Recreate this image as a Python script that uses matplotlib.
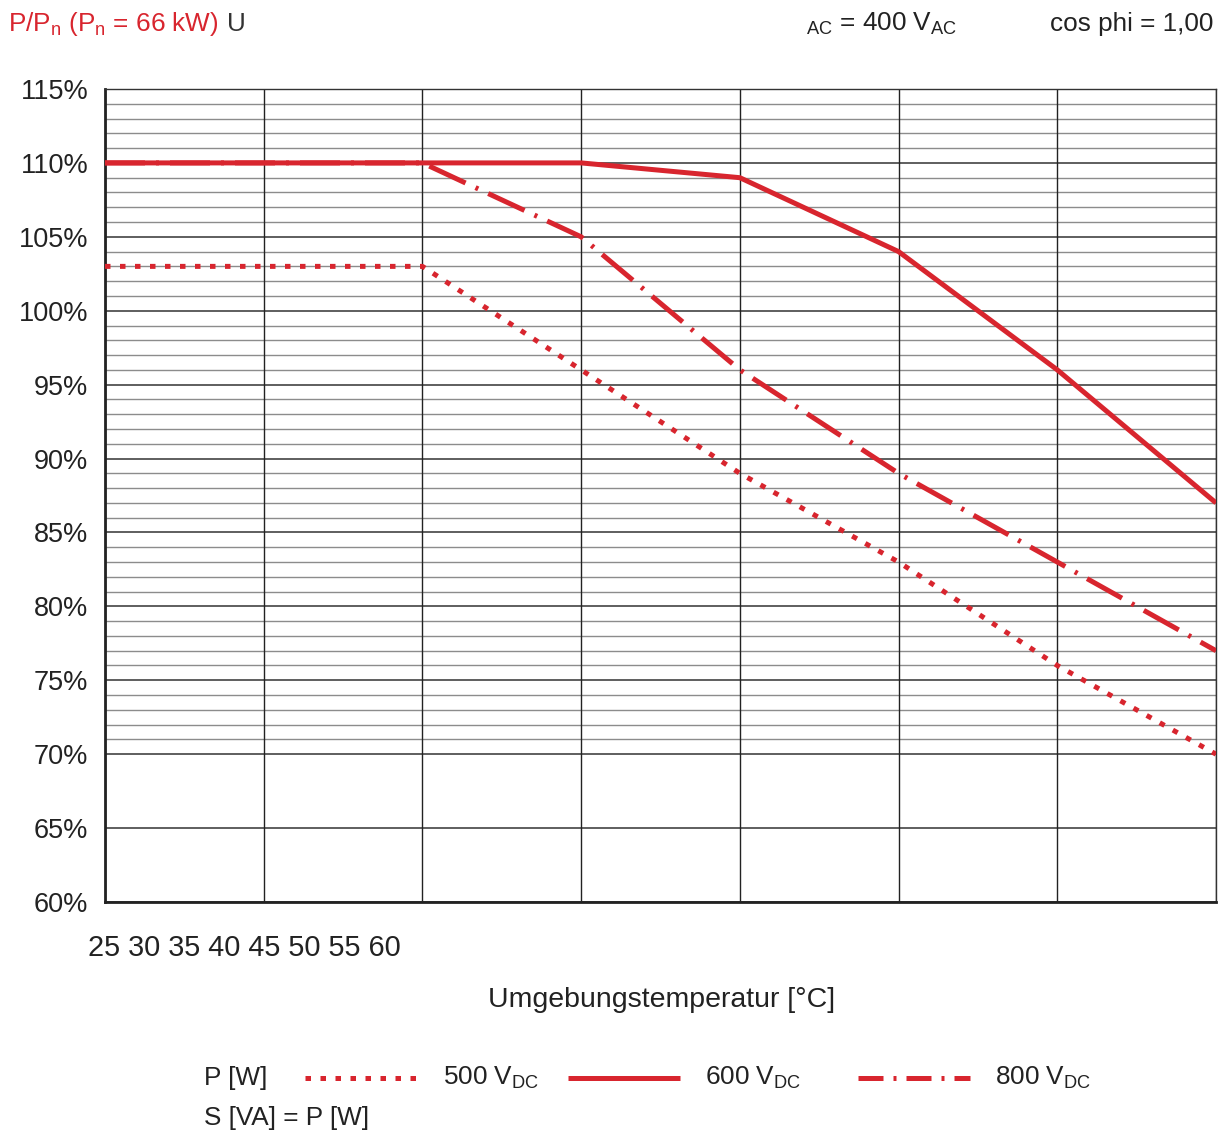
import matplotlib
matplotlib.use("Agg")
import matplotlib.pyplot as plt
from matplotlib.lines import Line2D

plt.rcParams['font.family'] = ['Liberation Sans', 'DejaVu Sans']
plt.rcParams['mathtext.fontset'] = 'custom'
plt.rcParams['mathtext.rm'] = 'Liberation Sans'
plt.rcParams['mathtext.it'] = 'Liberation Sans'

# data
temps = [25, 30, 35, 40, 45, 50, 55, 60]
p_500 = [103, 103, 103, 96, 89, 83, 76, 70]
p_600 = [110, 110, 110, 110, 109, 104, 96, 87]
p_800 = [110, 110, 110, 105, 96, 89, 83, 77]
y_ticks = [60, 65, 70, 75, 80, 85, 90, 95, 100, 105, 110, 115]
x_labels = ["25", "30", "35", "40", "45", "50", "55", "60"]

red = '#d8252e'
W, H = 1218, 1135
fig = plt.figure(figsize=(W / 100, H / 100), dpi=100)
ax = fig.add_axes([105 / W, 1 - 902 / H, (1216 - 105) / W, (902 - 89) / H])

ax.set_xlim(25, 60)
ax.set_ylim(60, 115)

# grid: fine lines every 1 % between 70 and 115, coarse every 5 %
for v in range(71, 115):
    if v % 5:
        ax.axhline(v, color='#8c8c8c', lw=1.0, zorder=1)
for v in y_ticks:
    ax.axhline(v, color='#333333', lw=1.1, zorder=1.5)
for t in temps:
    ax.axvline(t, color='#222222', lw=1.0, zorder=1.5)

lw = 3.6
dot = (1.1, 1.9)
dashdot = (8, 2.2, 0.6, 2.2)
ax.plot(temps, p_500, color=red, lw=lw, dashes=dot, zorder=3)
ax.plot(temps, p_800, color=red, lw=lw, dashes=dashdot, zorder=3)
ax.plot(temps, p_600, color=red, lw=lw, solid_capstyle='butt', zorder=3)

ax.set_yticks(y_ticks)
ax.set_yticklabels([f"{v}%" for v in y_ticks], fontsize=19.5, color='#222222')
ax.set_xticks([])
ax.tick_params(axis='y', length=0, pad=12)
for side in ['top', 'right']:
    ax.spines[side].set_linewidth(1.0)
    ax.spines[side].set_color('#333333')
for side in ['left', 'bottom']:
    ax.spines[side].set_linewidth(2.0)
    ax.spines[side].set_color('#222222')

# x labels all bunched under the left part, as in the original
fig.text(88 / W, 1 - 948 / H, " ".join(x_labels), fontsize=20.8, color='#222222', va='center', ha='left')
fig.text(662 / W, 1 - 1000 / H, "Umgebungstemperatur [°C]", fontsize=20.5, color='#222222', va='center', ha='center')

# header
hy = 1 - 24 / H
fig.text(8 / W, hy, r"P/P$_\mathrm{n}$ (P$_\mathrm{n}$ = 66 kW)", fontsize=18.8, color=red, va='center')
fig.text(227 / W, hy, "U", fontsize=18.8, color='#333333', va='center')
fig.text(806 / W, hy, r"$_\mathrm{AC}$ = 400 V$_\mathrm{AC}$", fontsize=18.8, color='#222222', va='center')
fig.text(1213 / W, hy, "cos phi = 1,00", fontsize=18.8, color='#222222', va='center', ha='right')

# legend
ly = 1 - 1078 / H
fig.text(204 / W, ly, "P [W]", fontsize=18.8, color='#222222', va='center')
fig.text(204 / W, 1 - 1118 / H, "S [VA] = P [W]", fontsize=18.8, color='#222222', va='center')
samples = [(305, 417, dict(dashes=dot), r"500 V$_\mathrm{DC}$", 443),
           (568, 680, dict(solid_capstyle='butt'), r"600 V$_\mathrm{DC}$", 705),
           (858, 970, dict(dashes=(5, 2, 0.6, 2)), r"800 V$_\mathrm{DC}$", 995)]
for x0, x1, style, label, tx in samples:
    fig.add_artist(Line2D([x0 / W, x1 / W], [ly, ly], transform=fig.transFigure, color=red, lw=lw, **style))
    fig.text(tx / W, ly, label, fontsize=18.8, color='#222222', va='center')

fig.savefig("out.png", dpi=100)
